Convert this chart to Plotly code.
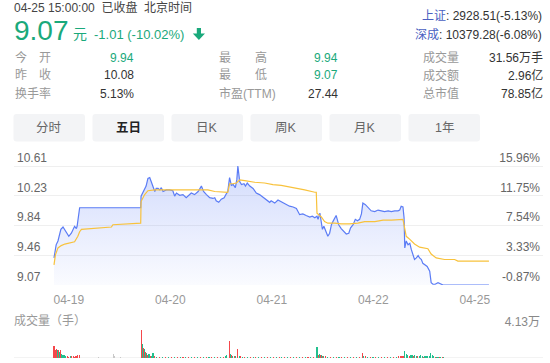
import plotly.graph_objects as go

# ---------------- data ----------------
# minute index over five trading days (0 .. 1204), price in 元
price_t = [0, 6, 11, 19, 25, 34, 41, 48, 53, 57, 62, 64, 71, 240,
           241, 251, 255, 260, 265, 269, 274, 279, 283, 288, 293, 297, 302, 311, 320, 329, 334, 339, 348, 357,
           366, 376, 380, 389, 399, 408, 414, 422, 431, 440, 445, 449, 456, 463, 471, 477, 481,
           486, 491, 496, 502, 506, 509, 514, 519, 526, 530, 535, 542, 551, 560, 569, 579, 588, 597, 601, 611,
           620, 628, 637, 643, 652, 662, 671, 680, 689, 698, 708, 715, 722,
           728, 731, 736, 740, 743, 747, 754, 758, 763, 768, 772, 777, 781, 784, 788, 795, 803, 809, 816, 821,
           828, 834, 840, 846, 851, 855, 862, 869, 878, 888, 897, 906, 915, 925, 934, 943, 952, 957, 961, 966,
           969, 971, 975, 980, 985, 989, 994, 998, 1003, 1008, 1012, 1017, 1021, 1026, 1033, 1040, 1044, 1049,
           1055, 1063, 1070, 1077, 1204]
price_v = [9.42, 9.59, 9.64, 9.79, 9.82, 9.76, 9.70, 9.74, 9.79, 9.83, 9.80, 9.83, 10.07, 10.07,
           10.22, 10.30, 10.35, 10.45, 10.46, 10.41, 10.33, 10.28, 10.32, 10.32, 10.30, 10.33, 10.28, 10.30, 10.30, 10.29, 10.22, 10.26, 10.23, 10.24,
           10.20, 10.24, 10.26, 10.24, 10.28, 10.35, 10.28, 10.24, 10.20, 10.19, 10.20, 10.16, 10.14, 10.18, 10.20, 10.25, 10.28,
           10.46, 10.36, 10.37, 10.33, 10.43, 10.61, 10.41, 10.37, 10.38, 10.35, 10.39, 10.35, 10.32, 10.26, 10.24, 10.20, 10.17, 10.14, 10.16, 10.13,
           10.17, 10.15, 10.13, 10.11, 10.09, 10.08, 10.06, 9.98, 9.99, 9.97, 9.95, 9.96, 9.94,
           9.96, 9.92, 10.00, 9.89, 9.79, 9.83, 9.74, 9.70, 9.74, 9.85, 9.89, 9.94, 9.97, 9.92, 9.85, 9.80, 9.76, 9.73, 9.74, 9.81,
           9.85, 9.92, 9.90, 9.92, 9.99, 10.13, 10.11, 10.07, 10.03, 10.02, 10.04, 10.03, 10.02, 10.03, 10.02, 10.03, 10.03, 10.04, 10.09, 10.08,
           9.94, 9.55, 9.64, 9.59, 9.61, 9.53, 9.46, 9.40, 9.42, 9.45, 9.42, 9.40, 9.35, 9.33, 9.31, 9.25, 9.10, 9.08,
           9.08, 9.10, 9.09, 9.07, 9.07]

avg_t = [0, 4, 11, 20, 30, 43, 57, 66, 71, 76, 103, 131, 159, 163, 196, 237, 240,
         241, 251, 260, 279, 302, 334, 380, 426, 445, 477, 481,
         486, 495, 505, 514, 528, 555, 583, 606, 629, 666, 694, 722, 726,
         728, 733, 740, 749, 758, 777, 795, 818, 841, 860, 888, 911, 934, 966,
         969, 975, 985, 998, 1012, 1035, 1044, 1058, 1081, 1109, 1118, 1204]
avg_v = [9.33, 9.46, 9.55, 9.58, 9.60, 9.61, 9.63, 9.70, 9.76, 9.79, 9.80, 9.81, 9.82, 9.85, 9.86, 9.87, 9.87,
         10.15, 10.24, 10.29, 10.30, 10.30, 10.30, 10.30, 10.30, 10.28, 10.27, 10.27,
         10.38, 10.38, 10.39, 10.43, 10.42, 10.40, 10.39, 10.37, 10.36, 10.33, 10.30, 10.27, 10.27,
         10.00, 9.98, 9.95, 9.89, 9.87, 9.87, 9.86, 9.86, 9.87, 9.89, 9.89, 9.91, 9.91, 9.92,
         9.85, 9.70, 9.66, 9.60, 9.56, 9.54, 9.47, 9.42, 9.40, 9.40, 9.38, 9.38]

vol_t = [0, 3, 6, 9, 12, 15, 18, 21, 25, 29, 33, 37, 41, 45, 49, 53, 57, 61, 66, 70,
         95, 110, 122, 140, 155, 165, 168, 185, 205, 225,
         242, 245, 248, 251, 254, 257, 260, 263, 267, 271, 274, 278,
         285, 293, 301, 309, 317, 325, 333, 341, 349, 357, 365, 373, 381, 389, 397, 405, 413, 421, 429, 437,
         445, 453, 461, 469, 474, 478,
         486, 489, 492, 495, 499, 503, 509, 513, 517, 521,
         527, 535, 543, 551, 559, 567, 575, 583, 591, 599, 607, 615, 623, 631, 639, 647, 655, 663, 671, 679,
         687, 695, 703, 711, 718,
         728, 731, 734, 737, 740, 743, 747, 751,
         757, 765, 773, 781, 789, 797, 805, 813, 821, 829, 837, 845,
         853, 857, 861,
         867, 875, 883, 891, 899, 907, 915, 923, 931, 939, 947, 954, 958, 962,
         966, 971, 975, 979, 983, 987, 991, 995, 999, 1003, 1007, 1011, 1015, 1019, 1023, 1027, 1031, 1035,
         1039, 1043, 1047, 1051, 1055, 1059, 1063, 1067, 1071, 1075, 1079]
vol_v = [17700, 12000, 13000, 11500, 12500, 9000, 12000, 6000, 5000, 4500, 3500, 2500, 2000, 2500, 3000, 2500, 2000, 3500, 4000, 4000,
         500, 400, 1200, 600, 500, 6000, 2500, 800, 700, 600,
         41300, 20000, 15000, 14000, 9000, 8000, 5000, 6000, 3000, 2500, 7000, 2500,
         1500, 1200, 1800, 1500, 2000, 1200, 1600, 1400, 1800, 1500, 1300, 1700, 1500, 1800, 2000, 1600, 1400, 1200, 1800, 1500,
         1300, 1700, 2000, 1500, 3000, 5000,
         25500, 6000, 4000, 3000, 3000, 2500, 13800, 3500, 2500, 2000,
         1500, 1800, 1300, 1600, 1500, 1900, 1400, 1700, 1500, 1800, 1300, 1600, 1500, 1700, 1400, 1800, 1600, 1500, 1700, 1900,
         1500, 1700, 1800, 1600, 2000,
         16000, 5000, 5500, 4500, 4000, 3500, 3000, 2500,
         1800, 1500, 1700, 1400, 1600, 1500, 1800, 1300, 1700, 1500, 1600, 1800,
         7800, 3500, 3000,
         1800, 1500, 1700, 1400, 1600, 1500, 1800, 1300, 1600, 1700, 1800, 2500, 3000, 3500,
         3500, 11000, 5500, 4500, 3500, 4500, 4000, 3000, 4000, 3500, 2500, 3000, 4000, 2500, 2000, 3000, 2500, 3000,
         3500, 7000, 4500, 3000, 2000, 1500, 1500, 1200, 1000, 1000, 800]
vol_dir = [1, 1, 1, -1, 1, -1, 1, -1, -1, -1, -1, 1, 1, -1, 1, 1, 1, 1, 1, 1,
           0, 0, 0, 0, 0, 0, 0, 0, 0, 0,
           1, -1, 1, -1, 1, -1, 1, -1, 1, -1, -1, 1,
           -1, 1, -1, 1, -1, 1, -1, 1, -1, 1, -1, 1, -1, 1, -1, 1, -1, 1, -1, 1,
           -1, 1, -1, 1, -1, -1,
           1, -1, 1, -1, 1, -1, 1, -1, 1, -1,
           1, -1, 1, -1, 1, -1, 1, -1, 1, -1, 1, -1, 1, -1, 1, -1, 1, -1, 1, -1,
           1, -1, 1, -1, 1,
           -1, 1, -1, 1, -1, 1, -1, 1,
           -1, 1, -1, 1, -1, 1, -1, 1, -1, 1, -1, 1,
           1, -1, 1,
           -1, 1, -1, 1, -1, 1, -1, 1, -1, 1, -1, 1, 1, 1,
           1, -1, -1, -1, 1, -1, -1, 1, -1, -1, 1, -1, -1, -1, 1, -1, -1, -1,
           -1, -1, -1, -1, 1, -1, -1, 1, -1, 1, -1]

day_labels = ["04-19", "04-20", "04-21", "04-22", "04-25"]
day_label_t = [41, 322, 603, 884, 1165]
price_ticks = [9.07, 9.455, 9.84, 10.225, 10.61]
price_tick_text = ["9.07", "9.46", "9.84", "10.23", "10.61"]
pct_tick_text = ["-0.87%", "3.33%", "7.54%", "11.75%", "15.96%"]
vol_max = 41300
vol_max_text = "4.13万"

header_time = "04-25 15:00:00  已收盘  北京时间"
last_price = "9.07"
change_text = "-1.01 (-10.02%)"
index_lines = [("上证", ": 2928.51(-5.13%)"), ("深成", ": 10379.28(-6.08%)")]
stat_labels = [["今　开", "昨　收", "换手率"], ["最　　高", "最　　低", "市盈(TTM)"], ["成交量", "成交额", "总市值"]]
stat_values = [["9.94", "10.08", "5.13%"], ["9.94", "9.07", "27.44"], ["31.56万手", "2.96亿", "78.85亿"]]
stat_green = [[True, False, False], [True, True, False], [False, False, False]]
tabs = ["分时", "五日", "日K", "周K", "月K", "1年"]
selected_tab = 1

# ---------------- styling ----------------
W, H = 550, 363
FONT = "Liberation Sans, Arial, Noto Sans CJK SC, sans-serif"
GREEN = "#1aa97b"
RED = "#f5474b"
VGREEN = "#22c08e"
BLUE = "#5b7cf5"
YELLOW = "#f8c23c"
DARK = "#333333"
LIGHT = "#999999"


def X(px):
    return px / W


def Y(py):
    return 1 - py / H


x_dom = [X(14), X(543)]
T_LEFT, T_RIGHT = -110.7, 1353.6

# price panel: 10.61 at y=166px, 9.07 at y=285px; domain extended upward so the top label shows
p_per_px = (price_ticks[-1] - price_ticks[0]) / (285 - 166)
price_top_px = 150
price_range = [price_ticks[0], price_ticks[-1] + (166 - price_top_px) * p_per_px]
# volume panel: max at y=330px, zero at y=358px
v_per_px = vol_max / (358 - 330)
vol_top_px = 314
vol_range = [0, vol_max + (330 - vol_top_px) * v_per_px]

fig = go.Figure()

fig.add_trace(go.Scatter(
    x=price_t, y=price_v, mode="lines", line=dict(color=BLUE, width=1.2),
    fill="tozeroy",
    fillgradient=dict(type="vertical", start=9.07, stop=10.61,
                      colorscale=[[0, "rgba(91,124,245,0.03)"], [1, "rgba(91,124,245,0.27)"]]),
    hoverinfo="skip", showlegend=False, xaxis="x", yaxis="y"))
fig.add_trace(go.Scatter(
    x=avg_t, y=avg_v, mode="lines", line=dict(color=YELLOW, width=1.2),
    hoverinfo="skip", showlegend=False, xaxis="x", yaxis="y"))
# carrier for the right-hand percent axis
fig.add_trace(go.Scatter(
    x=[price_t[0]], y=[price_v[0]], mode="markers", marker=dict(opacity=0),
    hoverinfo="skip", showlegend=False, xaxis="x", yaxis="y3"))

cmap = {1: RED, -1: VGREEN, 0: "#c9c9c9"}
fig.add_trace(go.Bar(
    x=vol_t, y=vol_v, width=3, marker=dict(color=[cmap[d] for d in vol_dir], line=dict(width=0)),
    hoverinfo="skip", showlegend=False, xaxis="x2", yaxis="y2"))

axis_font = dict(family=FONT, size=12, color="#666666")

fig.update_layout(
    width=W, height=H, autosize=False,
    margin=dict(l=0, r=0, t=0, b=0, pad=0),
    paper_bgcolor="white", plot_bgcolor="white",
    font=dict(family=FONT, size=12, color=DARK),
    bargap=0,
    xaxis=dict(domain=x_dom, range=[T_LEFT, T_RIGHT], anchor="y", showgrid=False, zeroline=False,
               showline=False, tickvals=day_label_t, ticktext=day_labels, ticks="outside", ticklen=4,
               tickcolor="rgba(0,0,0,0)", tickfont=dict(family=FONT, size=12, color="#999999"),
               fixedrange=True),
    yaxis=dict(domain=[Y(285), Y(price_top_px)], range=price_range, anchor="x", side="left",
               tickvals=price_ticks, ticktext=price_tick_text, ticklabelposition="inside top",
               showgrid=True, gridcolor="#efefef", gridwidth=1, zeroline=False, showline=False,
               ticks="", tickfont=axis_font, fixedrange=True),
    yaxis3=dict(overlaying="y", anchor="x", side="right", range=price_range,
                tickvals=price_ticks, ticktext=pct_tick_text, ticklabelposition="inside top",
                showgrid=False, zeroline=False, showline=False, ticks="", tickfont=axis_font,
                fixedrange=True),
    xaxis2=dict(domain=x_dom, range=[T_LEFT, T_RIGHT], anchor="y2", showgrid=False, zeroline=False,
                showline=False, showticklabels=False, ticks="", fixedrange=True),
    yaxis2=dict(domain=[Y(358), Y(vol_top_px)], range=vol_range, anchor="x2", side="right",
                tickvals=[vol_max], ticktext=[vol_max_text], ticklabelposition="inside top",
                showgrid=False, zeroline=False, showline=False, ticks="",
                tickfont=dict(family=FONT, size=12, color="#888888"), fixedrange=True),
)

# volume baseline
fig.add_shape(type="line", xref="x2 domain", yref="y2", x0=0, x1=1, y0=0, y1=0,
              line=dict(color="#e6e6e6", width=1), layer="below")

ann = []


def text(px, py, s, size=12, color=DARK, anchor="left", bold=False):
    ann.append(dict(x=X(px), y=Y(py), xref="paper", yref="paper", text=("<b>%s</b>" % s) if bold else s,
                    showarrow=False, xanchor=anchor, yanchor="middle", borderpad=0,
                    font=dict(family=FONT, size=size, color=color)))


# header
text(13, 7.5, header_time, 12, "#444444")
text(12.5, 31, last_price, 28, GREEN)
text(72, 34, "元", 14, GREEN)
text(92.5, 34, change_text, 13, GREEN)
for i, (name, rest) in enumerate(index_lines):
    text(543, 15.5 + i * 19.3, "<span style='color:#4a5fc1'>%s</span>%s" % (name, rest), 12, DARK, "right")

# stats grid
row_y = [57.5, 75.5, 93.5]
label_x = [13.5, 218, 421.5]
value_x = [134.5, 338.5, 543.5]
for c in range(3):
    for r in range(3):
        text(label_x[c], row_y[r], stat_labels[c][r], 12, LIGHT)
        text(value_x[c], row_y[r], stat_values[c][r], 12, GREEN if stat_green[c][r] else DARK, "right")

# tabs
tab_x0, tab_w, tab_gap, tab_y0, tab_y1, rad = 13.5, 71.5, 7.5, 114, 141.5, 3
for i, name in enumerate(tabs):
    x0 = tab_x0 + i * (tab_w + tab_gap)
    x1 = x0 + tab_w
    p = [(x0 + rad, tab_y0), (x1 - rad, tab_y0), (x1, tab_y0 + rad), (x1, tab_y1 - rad),
         (x1 - rad, tab_y1), (x0 + rad, tab_y1), (x0, tab_y1 - rad), (x0, tab_y0 + rad)]
    path = "M %f %f " % (X(p[0][0]), Y(p[0][1]))
    path += "L %f %f Q %f %f %f %f " % (X(p[1][0]), Y(p[1][1]), X(x1), Y(tab_y0), X(p[2][0]), Y(p[2][1]))
    path += "L %f %f Q %f %f %f %f " % (X(p[3][0]), Y(p[3][1]), X(x1), Y(tab_y1), X(p[4][0]), Y(p[4][1]))
    path += "L %f %f Q %f %f %f %f " % (X(p[5][0]), Y(p[5][1]), X(x0), Y(tab_y1), X(p[6][0]), Y(p[6][1]))
    path += "L %f %f Q %f %f %f %f Z" % (X(p[7][0]), Y(p[7][1]), X(x0), Y(tab_y0), X(p[0][0]), Y(p[0][1]))
    fig.add_shape(type="path", xref="paper", yref="paper", path=path,
                  fillcolor="#f3f4f6", line=dict(width=0), layer="below")
    sel = (i == selected_tab)
    text((x0 + x1) / 2, (tab_y0 + tab_y1) / 2, name, 12.5, "#222222" if sel else "#666666", "center", bold=sel)

# down arrow
arrow = [(196.8, 28), (201, 28), (201, 33.5), (205, 33.5), (198.9, 40), (192.8, 33.5), (196.8, 33.5)]
apath = "M " + " L ".join("%f %f" % (X(a), Y(b)) for a, b in arrow) + " Z"
fig.add_shape(type="path", xref="paper", yref="paper", path=apath, fillcolor=GREEN, line=dict(width=0))

# volume title
text(13, 320, "成交量（手）", 12, LIGHT)

fig.update_layout(annotations=ann)
fig.write_html("out.html", config={"displayModeBar": False, "staticPlot": True},
               post_script="document.body.style.margin='0';")
